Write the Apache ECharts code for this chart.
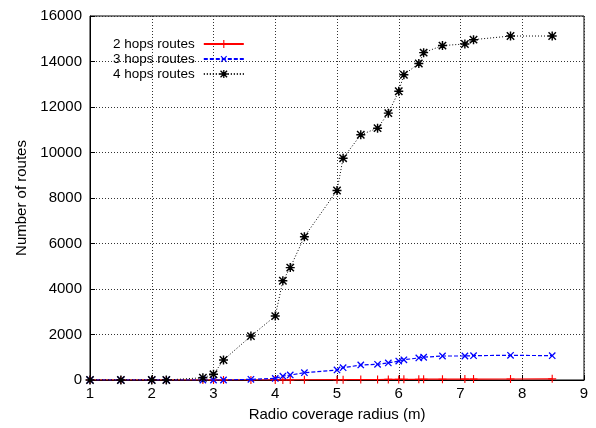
<!DOCTYPE html>
<html>
<head>
<meta charset="utf-8">
<script src="https://cdn.jsdelivr.net/npm/echarts@6/dist/echarts.min.js"></script>
<style>html,body{margin:0;padding:0;background:#fff}#c{width:596px;height:428px}</style>
</head>
<body>
<div id="c"></div>
<script>
const radius = [1, 1.5, 2, 2.236, 2.828, 3, 3.162, 3.606, 4, 4.123, 4.243, 4.472, 5, 5.099, 5.385, 5.657, 5.831, 6, 6.083, 6.325, 6.403, 6.708, 7.071, 7.211, 7.810, 8.485];
const hops2 = [0,0,0,0,0,0,0,0,5,5,5,10,15,15,20,20,25,25,30,30,35,35,40,40,45,50];
const hops3 = [0,0,0,0,0,0,0,30,70,170,220,320,440,540,660,690,750,835,890,970,1000,1055,1055,1070,1085,1070];
const hops4 = [0,0,0,0,100,250,880,1930,2810,4360,4940,6300,8330,9750,10780,11070,11730,12690,13420,13910,14390,14700,14770,14960,15120,15120];
const seriesNames = ['2 hops routes', '3 hops routes', '4 hops routes'];
const xTicks = [1,2,3,4,5,6,7,8,9];
const yTicks = [0,2000,4000,6000,8000,10000,12000,14000,16000];

const plusPath = 'path://M-0.7,-5H0.7V-0.7H5V0.7H0.7V5H-0.7V0.7H-5V-0.7H-0.7Z';
const starPath = 'path://M-0.8,-5H0.8V-0.8H5V0.8H0.8V5H-0.8V0.8H-5V-0.8H-0.8Z M-3.54,-4.66L0,-1.13L3.54,-4.66L4.66,-3.54L1.13,0L4.66,3.54L3.54,4.66L0,1.13L-3.54,4.66L-4.66,3.54L-1.13,0L-4.66,-3.54Z';
const font = 'Liberation Sans';

function pairs(ys){ return radius.map((x,i)=>[x, ys[i]]); }

const chart = echarts.init(document.getElementById('c'), null, {renderer:'canvas'});
chart.setOption({
  animation: false,
  backgroundColor: '#fff',
  grid: {left: 90, right: 12, top: 16, bottom: 48, show: true, borderColor: '#000', borderWidth: 1, backgroundColor: 'transparent'},
  legend: {
    orient: 'vertical', align: 'right', left: 113, top: 37, padding: 0, itemGap: 1,
    itemWidth: 40, itemHeight: 10,
    textStyle: {fontFamily: font, fontSize: 13.5, color: '#000', lineHeight: 14, padding: [0, 4, 0, 0]},
    data: seriesNames
  },
  xAxis: {
    type: 'value', min: xTicks[0], max: xTicks[xTicks.length-1], interval: 1,
    name: 'Radio coverage radius (m)', nameLocation: 'middle', nameGap: 27,
    nameTextStyle: {fontFamily: font, fontSize: 15, color: '#000'},
    axisLine: {show: true, lineStyle: {color: '#000', width: 1}},
    axisTick: {show: true, inside: true, length: 5, lineStyle: {color: '#000'}},
    axisLabel: {fontFamily: font, fontSize: 15, color: '#000', margin: 6},
    splitLine: {show: true, lineStyle: {color: '#333', type: [1, 2], width: 1}}
  },
  yAxis: {
    type: 'value', min: yTicks[0], max: yTicks[yTicks.length-1], interval: 2000,
    name: 'Number of routes', nameLocation: 'middle', nameGap: 61, nameRotate: 90,
    nameTextStyle: {fontFamily: font, fontSize: 15, color: '#000'},
    axisLine: {show: true, lineStyle: {color: '#000', width: 1}},
    axisTick: {show: true, inside: true, length: 5, lineStyle: {color: '#000'}},
    axisLabel: {fontFamily: font, fontSize: 15, color: '#000', margin: 8, formatter: v => String(v)},
    splitLine: {show: true, lineStyle: {color: '#333', type: [1, 2], width: 1}}
  },
  series: [
    {name: seriesNames[0], type: 'line', data: pairs(hops2), symbol: plusPath, symbolSize: 8, showAllSymbol: true,
     lineStyle: {color: '#ff0000', width: 1.2, type: 'solid'}, itemStyle: {color: '#ff0000'}, z: 2},
    {name: seriesNames[1], type: 'line', data: pairs(hops3), symbol: plusPath, symbolRotate: 45, symbolSize: 9, showAllSymbol: true,
     lineStyle: {color: '#0000ff', width: 1.2, type: [4, 2]}, itemStyle: {color: '#0000ff'}, z: 3},
    {name: seriesNames[2], type: 'line', data: pairs(hops4), symbol: starPath, symbolSize: 9, showAllSymbol: true,
     lineStyle: {color: '#000', width: 1, type: [1, 2]}, itemStyle: {color: '#000'}, z: 4}
  ]
});
</script>
</body>
</html>
